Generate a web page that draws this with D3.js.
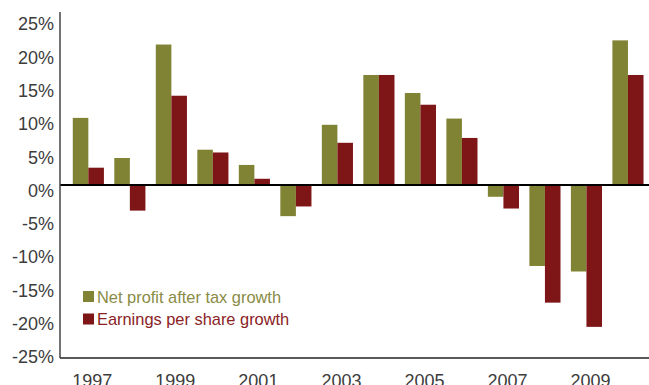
<!DOCTYPE html>
<html lang="en">
  <head>
    <meta charset="UTF-8" />
    <title>Net profit and EPS growth</title>
    <script src="https://d3js.org/d3.v7.min.js"></script>
    <style>
      body { margin: 0; background: #fff; }
      text { font-family: "Liberation Sans", Arial, sans-serif; }
    </style>
  </head>
  <body>
    <div id="chart"></div>
    <script>
      // Data
      const years = ["1997", "1998", "1999", "2000", "2001", "2002", "2003",
        "2004", "2005", "2006", "2007", "2008", "2009", "2010"];
      const netProfit = [9.7, 3.9, 20.3, 5.1, 2.9, -4.5, 8.7,
        15.9, 13.3, 9.6, -1.7, -11.7, -12.5, 20.9];
      const eps = [2.5, -3.7, 12.9, 4.7, 0.9, -3.1, 6.1,
        15.9, 11.6, 6.8, -3.4, -17.0, -20.5, 15.9];
      const yTicks = [25, 20, 15, 10, 5, 0, -5, -10, -15, -20, -25];
      const xLabels = ["1997", "1999", "2001", "2003", "2005", "2007", "2009"];
      const seriesNames = ["Net profit after tax growth", "Earnings per share growth"];

      const colors = ["#808334", "#7e1517"];
      const textColors = ["#898b45", "#8a2226"];

      const width = 649, height = 385;
      const plot = { left: 60, right: 649, top: 12, bottom: 358 };

      const svg = d3.select("#chart").append("svg")
        .attr("width", width)
        .attr("height", height);

      const x = d3.scaleBand()
        .domain(years)
        .range([plot.left, plot.right])
        .paddingInner(0.25)
        .paddingOuter(0.22)
        .align(0.7);

      const xSub = d3.scaleBand()
        .domain([0, 1])
        .range([0, x.bandwidth()]);

      const y = d3.scaleLinear().domain([-25, 25]).range([plot.bottom, plot.top]);
      // tick labels sit slightly compressed against the axis in the original
      const yLab = d3.scaleLinear().domain([-25, 25]).range([357, 24]);

      // bars
      const groups = svg.selectAll("g.year")
        .data(years)
        .enter()
        .append("g")
        .attr("class", "year")
        .attr("transform", (d) => "translate(" + x(d) + ",0)");

      groups.selectAll("rect")
        .data((d, i) => [netProfit[i], eps[i]])
        .enter()
        .append("rect")
        .attr("x", (d, j) => xSub(j))
        .attr("width", xSub.bandwidth())
        .attr("y", (d) => y(Math.max(0, d)))
        .attr("height", (d) => Math.abs(y(d) - y(0)))
        .attr("fill", (d, j) => colors[j]);

      // zero line
      svg.append("line")
        .attr("x1", plot.left)
        .attr("x2", plot.right)
        .attr("y1", y(0))
        .attr("y2", y(0))
        .attr("stroke", "#000")
        .attr("stroke-width", 2);

      // axes lines
      svg.append("line")
        .attr("x1", plot.left).attr("x2", plot.left)
        .attr("y1", plot.top).attr("y2", plot.bottom)
        .attr("stroke", "#444")
        .attr("stroke-width", 1.5);
      svg.append("line")
        .attr("x1", plot.left).attr("x2", plot.right)
        .attr("y1", plot.bottom).attr("y2", plot.bottom)
        .attr("stroke", "#222")
        .attr("stroke-width", 1.5);

      // y labels
      svg.selectAll("text.ylab")
        .data(yTicks)
        .enter()
        .append("text")
        .attr("class", "ylab")
        .attr("x", 54)
        .attr("y", (d) => yLab(d))
        .attr("dy", "0.35em")
        .attr("text-anchor", "end")
        .attr("font-size", 18)
        .attr("fill", "#3c3c3c")
        .text((d) => d + "%");

      // x labels (cut by the bottom edge, as in the original)
      svg.selectAll("text.xlab")
        .data(xLabels)
        .enter()
        .append("text")
        .attr("class", "xlab")
        .attr("x", (d) => x(d) + x.bandwidth() / 2 + 4)
        .attr("y", 387)
        .attr("text-anchor", "middle")
        .attr("font-size", 18)
        .attr("fill", "#3c3c3c")
        .text((d) => d);

      // legend
      const legend = svg.selectAll("g.legend")
        .data(seriesNames)
        .enter()
        .append("g")
        .attr("class", "legend")
        .attr("transform", (d, i) => "translate(83," + (291 + i * 22.5) + ")");

      legend.append("rect")
        .attr("width", 11)
        .attr("height", 11)
        .attr("fill", (d, i) => colors[i]);

      legend.append("text")
        .attr("x", 14)
        .attr("y", 6)
        .attr("dy", "0.35em")
        .attr("font-size", 16.4)
        .attr("fill", (d, i) => textColors[i])
        .text((d) => d);
    </script>
  </body>
</html>
